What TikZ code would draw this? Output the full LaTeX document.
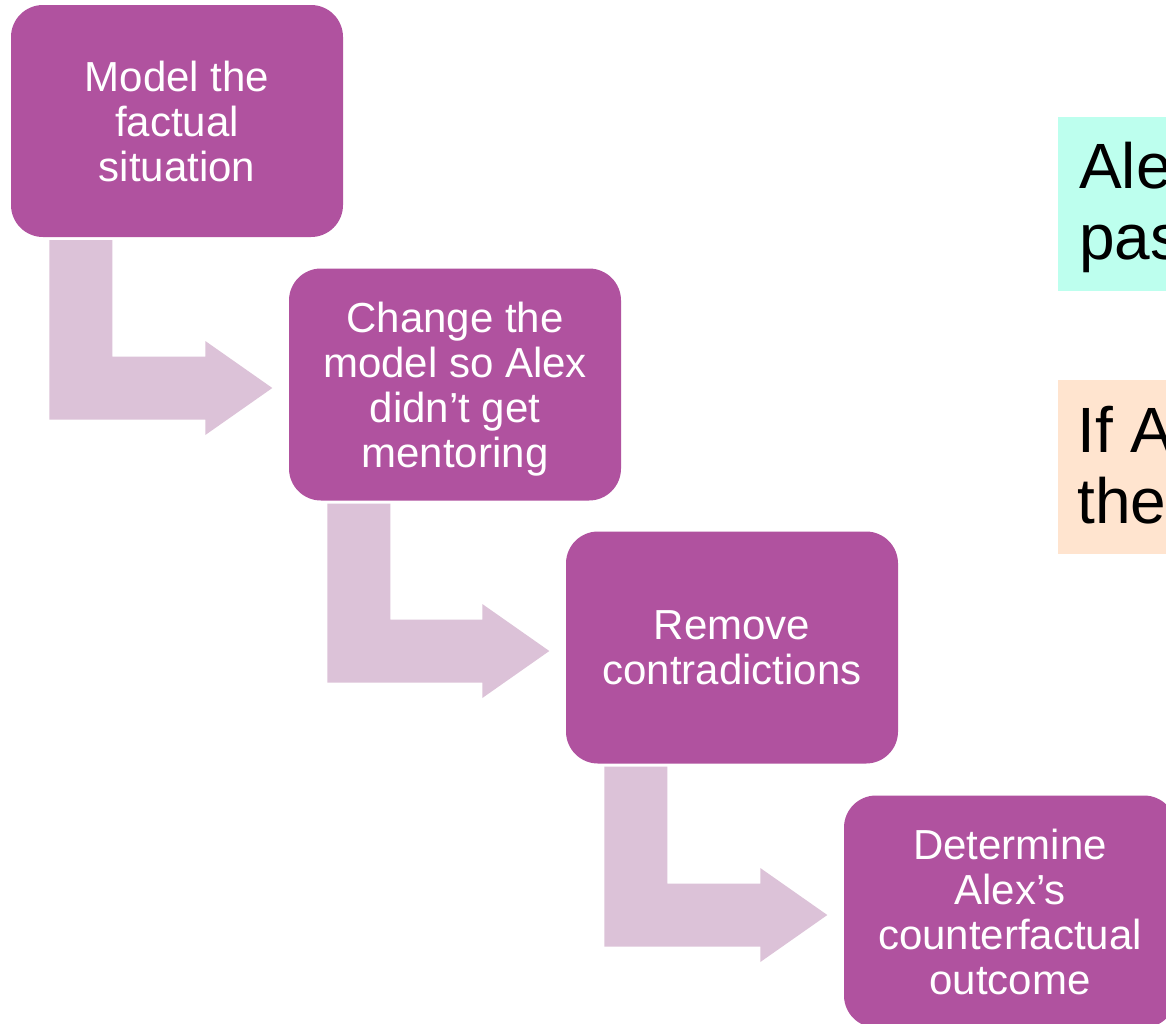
\documentclass[tikz,border=0pt]{standalone}
\usepackage{fontspec}
\setmainfont{Liberation Sans}
\usetikzlibrary{calc}
\definecolor{stepfill}{HTML}{B0529F}
\definecolor{arrowfill}{HTML}{DCC2D8}
\definecolor{factfill}{HTML}{BDFFEE}
\definecolor{cffill}{HTML}{FFE4CF}
\newcommand\bentarrow[2]{%
  \fill[arrowfill] let \p1 = ($(#1.south west)+(38.5pt,-3pt)$),
                       \p2 = ($(#2.west)+(-16.5pt,-3.5pt)$) in
    (\x1,\y1) -- (\x1+63pt,\y1) -- (\x1+63pt,\y2+31.5pt) -- (\x2-67pt,\y2+31.5pt)
    -- (\x2-67pt,\y2+47pt) -- (\x2,\y2) -- (\x2-67pt,\y2-47pt)
    -- (\x2-67pt,\y2-31.5pt) -- (\x1,\y2-31.5pt) -- cycle;}
\begin{document}
\begin{tikzpicture}[x=1pt,y=1pt,
  stepbox/.style={fill=stepfill, rounded corners=32pt, minimum width=332pt,
    minimum height=232pt, inner sep=0pt, text=white, align=center, text depth=0pt,
    font=\fontsize{42}{45}\selectfont},
  sidebox/.style={anchor=north west, minimum width=250pt, minimum height=174pt, inner sep=0pt},
  bigtext/.style={anchor=base west, inner sep=0pt, font=\fontsize{64}{70}\selectfont}]
\useasboundingbox (0,0) rectangle (1166,-1023);
\clip (0,0) rectangle (1166,-1023);
\fill[white] (0,0) rectangle (1166,-1023);
\node[stepbox] (b1) at (177,-121) {Model the\\factual\\situation};
\node[stepbox] (b2) at (455,-384.5) {Change the\\model so Alex\\didn’t get\\mentoring};
\node[stepbox] (b3) at (732,-647.5) {Remove\\contradictions};
\node[stepbox] (b4) at (1010,-911.5) {Determine\\Alex’s\\counterfactual\\outcome};
\bentarrow{b1}{b2}
\bentarrow{b2}{b3}
\bentarrow{b3}{b4}
\node[sidebox, fill=factfill] (fact) at (1058,-117) {};
\node[bigtext] (fact1) at (1079,-188.5) {Ale};
\node[bigtext] (fact2) at (1079,-259) {pas};
\node[sidebox, fill=cffill] (cf) at (1058,-380) {};
\node[bigtext] (cf1) at (1077,-452) {If A};
\node[bigtext] (cf2) at (1077,-523) {the};
\end{tikzpicture}
\end{document}
